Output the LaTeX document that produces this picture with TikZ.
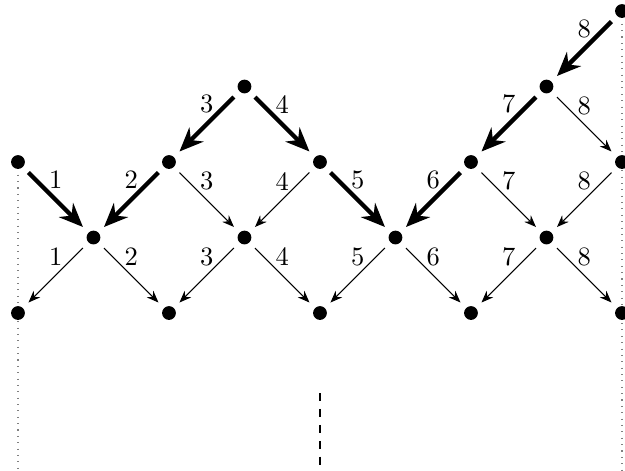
\documentclass[tikz,border=0pt]{standalone}
\usepackage{tikz}
\usetikzlibrary{arrows.meta,backgrounds}

\begin{document}
\begin{tikzpicture}[
  vx/.style={circle,fill,inner sep=0pt,minimum size=5.2pt,outer sep=3pt},
  ar/.style={-{Stealth[length=4.5pt,width=3.5pt]},thin},
  tk/.style={-{Stealth[length=9pt,width=7.5pt]},line width=1.6pt},
  lb/.style={above},
  gl/.style={dotted,gray}
]
\useasboundingbox (-0.238,-2.08) rectangle (8.04,4.146);
% bottom row
\node[vx] (a0) at (0,0) {};
\node[vx] (a2) at (2,0) {};
\node[vx] (a4) at (4,0) {};
\node[vx] (a6) at (6,0) {};
\node[vx] (a8) at (8,0) {};
% first row
\node[vx] (b1) at (1,1) {};
\node[vx] (b3) at (3,1) {};
\node[vx] (b5) at (5,1) {};
\node[vx] (b7) at (7,1) {};
% second row
\node[vx] (c0) at (0,2) {};
\node[vx] (c2) at (2,2) {};
\node[vx] (c4) at (4,2) {};
\node[vx] (c6) at (6,2) {};
\node[vx] (c8) at (8,2) {};
% upper nodes
\node[vx] (d3) at (3,3) {};
\node[vx] (d7) at (7,3) {};
\node[vx] (e8) at (8,4) {};
% guide lines
\coordinate (lft) at (0,-2.08);
\coordinate (rgt) at (8,-2.08);
\coordinate (mtop) at (4,-1.06);
\coordinate (mbot) at (4,-2.02);
\begin{scope}[on background layer]
\draw[gl] (c0.center) -- (lft);
\draw[gl] (e8.center) -- (rgt);
\end{scope}
\draw[dashed] (mtop) -- (mbot);
% thick path
\draw[tk] (c0) -- node[lb]{1} (b1);
\draw[tk] (c2) -- node[lb]{2} (b1);
\draw[tk] (d3) -- node[lb]{3} (c2);
\draw[tk] (d3) -- node[lb]{4} (c4);
\draw[tk] (c4) -- node[lb]{5} (b5);
\draw[tk] (c6) -- node[lb]{6} (b5);
\draw[tk] (d7) -- node[lb]{7} (c6);
\draw[tk] (e8) -- node[lb]{8} (d7);
% thin arrows
\draw[ar] (b1) -- node[lb]{1} (a0);
\draw[ar] (b1) -- node[lb]{2} (a2);
\draw[ar] (c2) -- node[lb]{3} (b3);
\draw[ar] (c4) -- node[lb]{4} (b3);
\draw[ar] (b3) -- node[lb]{3} (a2);
\draw[ar] (b3) -- node[lb]{4} (a4);
\draw[ar] (b5) -- node[lb]{5} (a4);
\draw[ar] (b5) -- node[lb]{6} (a6);
\draw[ar] (c6) -- node[lb]{7} (b7);
\draw[ar] (c8) -- node[lb]{8} (b7);
\draw[ar] (b7) -- node[lb]{7} (a6);
\draw[ar] (b7) -- node[lb]{8} (a8);
\draw[ar] (d7) -- node[lb]{8} (c8);
\end{tikzpicture}
\end{document}
